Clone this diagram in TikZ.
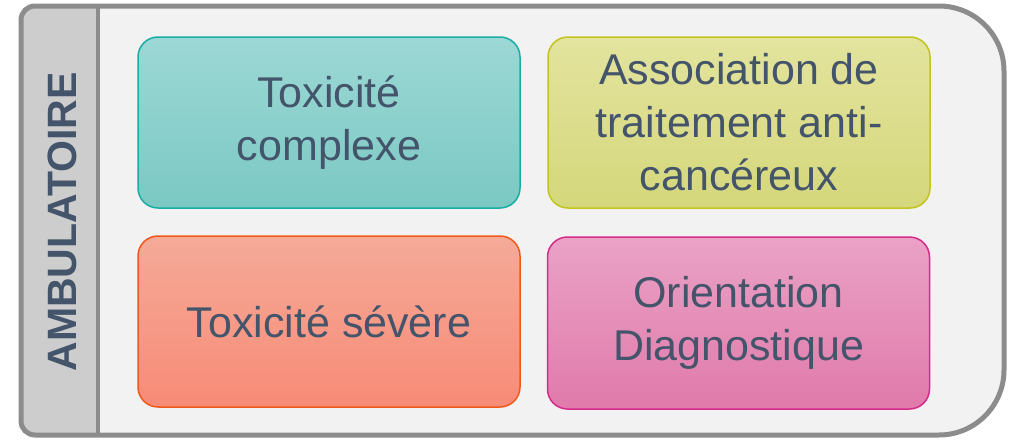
\documentclass[tikz,border=0pt]{standalone}
\usepackage{fontspec}
\setmainfont{Liberation Sans}
\definecolor{framegray}{HTML}{8C8C8C}
\definecolor{sidegray}{HTML}{CDCDCD}
\definecolor{bggray}{HTML}{F2F2F2}
\definecolor{txt}{HTML}{44546A}
\definecolor{tealT}{HTML}{9CD8D5}\definecolor{tealB}{HTML}{7BC8C3}\definecolor{tealD}{HTML}{19ADA5}
\definecolor{yelT}{HTML}{E3E49E}\definecolor{yelB}{HTML}{D5D77B}\definecolor{yelD}{HTML}{C2C41C}
\definecolor{orT}{HTML}{F5AA98}\definecolor{orB}{HTML}{F78B77}\definecolor{orD}{HTML}{EF5A1C}
\definecolor{pkT}{HTML}{EAA2C5}\definecolor{pkB}{HTML}{E07AAB}\definecolor{pkD}{HTML}{D52B8D}
\begin{document}
\begin{tikzpicture}[x=1pt,y=1pt,
  box/.style={rounded corners=20pt, line width=1.5pt, minimum width=382pt, minimum height=171pt,
    align=center, text=txt, font=\fontsize{43}{53}\selectfont, inner sep=0pt},
  tealbox/.style={box, draw=tealD, top color=tealT, bottom color=tealB},
  yelbox/.style={box, draw=yelD, top color=yelT, bottom color=yelB},
  orbox/.style={box, draw=orD, top color=orT, bottom color=orB},
  pkbox/.style={box, draw=pkD, top color=pkT, bottom color=pkB}]
\useasboundingbox (0,0) rectangle (1018,-442);
\def\framepath{(21,-20) -- (21,-421) arc[start angle=180, end angle=270, radius=14] -- (939,-435) arc[start angle=270,end angle=360,radius=65] -- (1004,-71) arc[start angle=0,end angle=90,radius=65] -- (35,-6) arc[start angle=90,end angle=180,radius=14] -- cycle}
\fill[bggray] \framepath;
\begin{scope}
\clip \framepath;
\fill[sidegray] (0,0) rectangle (98,-442);
\end{scope}
\draw[framegray, line width=4pt] (98,-6) -- (98,-435);
\draw[framegray, line width=5pt] \framepath;
\node[rotate=90, text=txt, font=\fontsize{41}{41}\selectfont\bfseries] (amb) at (62,-222) {AMBULATOIRE};
\node[tealbox] (tc) at (329,-122.5) {Toxicité\\complexe};
\node[yelbox] (as) at (739,-122.5) {Association de\\traitement anti-\\cancéreux};
\node[orbox] (ts) at (329,-321.5) {Toxicité sévère};
\node[pkbox, minimum height=172pt] (od) at (738.5,-323) {Orientation\\Diagnostique};
\end{tikzpicture}
\end{document}
